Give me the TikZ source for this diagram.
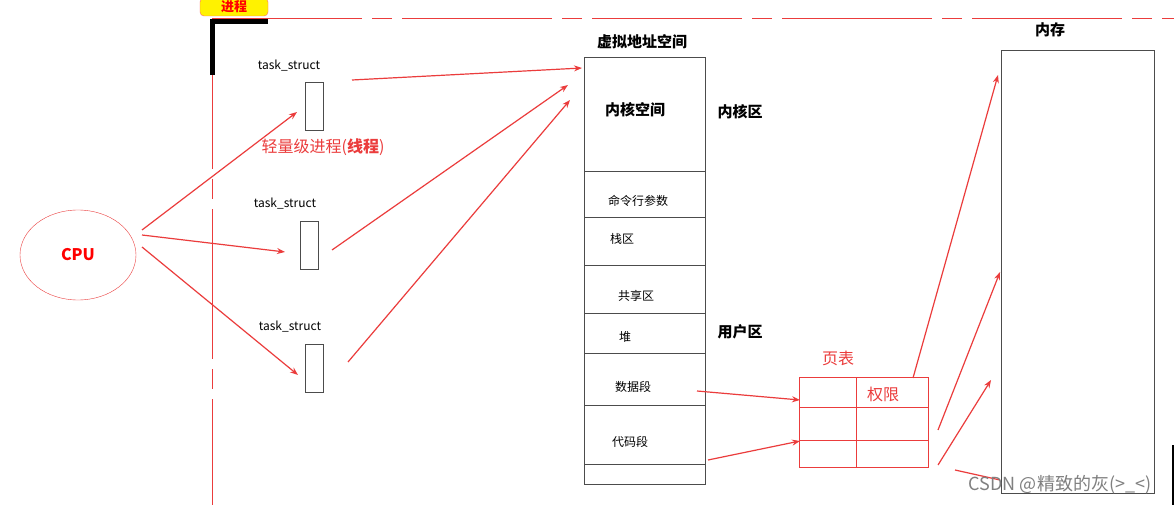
\documentclass[tikz,border=0pt]{standalone}
\usepackage{fontspec}
\setmainfont{Noto Sans CJK SC}
\usetikzlibrary{arrows.meta,shapes.geometric}
\definecolor{lred}{RGB}{235,60,60}
\begin{document}
\begin{tikzpicture}[x=1pt,y=-1pt,
  arr/.style={draw=lred,line width=1.2pt,-{Stealth[length=8pt,width=6pt]}},
  lbl/.style={font=\fontsize{12}{13}\selectfont},
  blbl/.style={font=\fontsize{15}{16}\selectfont\bfseries},
  tbox/.style={draw=black!70,line width=0.7pt}]
\useasboundingbox (0,0) rectangle (1174,505);
\fill[white] (0,0) rectangle (1174,505);
% process frame
\node[draw=red!60,fill=yellow,rounded corners=4pt,minimum width=68pt,minimum height=18pt,text=red,font=\fontsize{13}{14}\selectfont\bfseries,inner sep=1pt] (proc) at (234,7) {进程};
\draw[lred,line width=1pt,dash pattern=on 150pt off 10pt on 20pt off 10pt] (212,19) -- (1174,19);
\draw[lred,line width=1pt,dash pattern=on 150pt off 10pt on 20pt off 10pt] (212,19) -- (212,505);
\draw[black,line width=5pt] (212,75) -- (212,22) -- (268,22);
% task structs
\node[tbox,minimum width=18pt,minimum height=48pt,inner sep=0] (t1) at (314,106) {};
\node[tbox,minimum width=18pt,minimum height=48pt,inner sep=0] (t2) at (309,245) {};
\node[tbox,minimum width=18pt,minimum height=48pt,inner sep=0] (t3) at (314,368) {};
\node[lbl] (l1) at (289,66) {task\_struct};
\node[lbl] (l2) at (285,204) {task\_struct};
\node[lbl] (l3) at (290,327) {task\_struct};
\node[text=lred,font=\fontsize{16}{17}\selectfont] (lw) at (323,147) {轻量级进程(\textbf{线程})};
% CPU
\node[draw=lred,ellipse,minimum width=116pt,minimum height=90pt,text=red,font=\fontsize{16}{17}\selectfont\bfseries] (cpu) at (78,255) {CPU};
\coordinate (c1) at (142,230); \coordinate (c2) at (142,235); \coordinate (c3) at (142,247);
\coordinate (e1) at (297,112); \coordinate (e2) at (285,252); \coordinate (e3) at (298,375);
\draw[arr] (c1) -- (e1); \draw[arr] (c2) -- (e2); \draw[arr] (c3) -- (e3);
% VAS
\draw[tbox] (584,57) rectangle (705,484);
\foreach \y in {171,217,265,313,353,405,464} \draw[tbox] (584,\y) -- (705,\y);
\node[blbl] (vas) at (642,42) {虚拟地址空间};
\node[blbl] (k) at (635,110) {内核空间};
\node[lbl] at (638,201) {命令行参数};
\node[lbl] at (622,239) {栈区};
\node[lbl] at (636,296) {共享区};
\node[lbl] at (625,337) {堆};
\node[lbl] (ds) at (633,387) {数据段};
\node[lbl] (cs) at (630,442) {代码段};
\node[blbl] at (740,112) {内核区};
\node[blbl] at (740,332) {用户区};
\coordinate (s1) at (352,80); \coordinate (s2) at (332,250); \coordinate (s3) at (348,362);
\coordinate (v1) at (582,68); \coordinate (v2) at (568,85); \coordinate (v3) at (570,100);
\draw[arr] (s1) -- (v1); \draw[arr] (s2) -- (v2); \draw[arr] (s3) -- (v3);
% page table
\draw[lred,line width=0.9pt] (799,377) rectangle (928,467);
\draw[lred,line width=0.9pt] (799,407) -- (928,407) (799,440) -- (928,440) (856,377) -- (856,467);
\node[text=lred,font=\fontsize{16}{17}\selectfont] at (883,394) {权限};
\node[text=lred,font=\fontsize{16}{17}\selectfont] at (838,358) {页表};
\coordinate (d1) at (697,391); \coordinate (p1) at (800,400);
\coordinate (d2) at (708,460); \coordinate (p2) at (800,441);
\draw[arr] (d1) -- (p1); \draw[arr] (d2) -- (p2);
% memory
\draw[tbox] (1001,50) rectangle (1154,493);
\node[blbl] at (1050,30) {内存};
\coordinate (m0) at (913,378); \coordinate (m1) at (998,75);
\coordinate (n0) at (938,430); \coordinate (n1) at (1000,272);
\coordinate (o0) at (938,465); \coordinate (o1) at (991,380);
\draw[arr] (m0) -- (m1); \draw[arr] (n0) -- (n1); \draw[arr] (o0) -- (o1);
\draw[lred,line width=1.2pt] (955,470) -- (1000,480);
\draw[black,line width=1.5pt] (1173,445) -- (1173,505);
\node[text=gray,font=\fontsize{18}{19}\selectfont] at (1060,485) {CSDN @精致的灰(>\_<)};
\end{tikzpicture}
\end{document}
